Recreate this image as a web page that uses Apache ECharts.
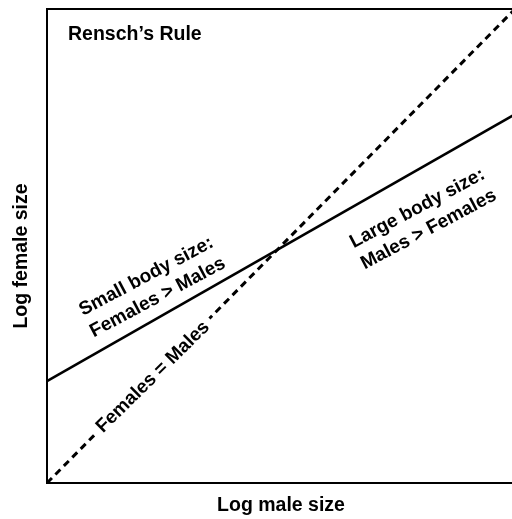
<!DOCTYPE html>
<html>
<head>
<meta charset="utf-8">
<script src="https://cdn.jsdelivr.net/npm/echarts@6/dist/echarts.min.js"></script>
<style>
  html, body { margin: 0; padding: 0; background: #fff; }
  #chart { width: 512px; height: 519px; }
</style>
</head>
<body>
<div id="chart"></div>
<script>
// conceptual lines, log male size vs log female size (0..1 units)
const maleSize = [0, 1]
const equalLine = [0, 1]          // Females = Males
const renschLine = [0.215, 0.778] // observed allometry

const font = 'Liberation Sans, Arial, sans-serif'

let myChart = echarts.init(document.getElementById('chart'))

myChart.setOption({
  animation: false,
  grid: {
    left: 47,
    width: 468,
    top: 9,
    bottom: 36,
    outerBoundsMode: 'none',
    containLabel: false,
    show: true,
    borderColor: '#000',
    borderWidth: 2
  },
  xAxis: {
    type: 'value',
    min: 0,
    max: 1,
    name: 'Log male size',
    nameLocation: 'middle',
    nameGap: 13,
    nameTextStyle: { color: '#000', fontSize: 19.5, fontWeight: 'bold', fontFamily: font },
    axisLine: { show: false },
    axisTick: { show: false },
    axisLabel: { show: false },
    splitLine: { show: false }
  },
  yAxis: {
    type: 'value',
    min: 0,
    max: 1,
    name: 'Log female size',
    nameLocation: 'middle',
    nameGap: 15,
    nameTextStyle: {
      color: '#000', fontSize: 19.5, fontWeight: 'bold', fontFamily: font,
      padding: [0, 20, 0, 0]
    },
    axisLine: { show: false },
    axisTick: { show: false },
    axisLabel: { show: false },
    splitLine: { show: false }
  },
  series: [
    {
      name: 'Females = Males',
      type: 'line',
      data: maleSize.map((x, i) => [x, equalLine[i]]),
      symbol: 'none',
      lineStyle: { color: '#000', width: 3, type: [7, 5] }
    },
    {
      name: "Rensch's Rule",
      type: 'line',
      data: maleSize.map((x, i) => [x, renschLine[i]]),
      symbol: 'none',
      lineStyle: { color: '#000', width: 2.5 }
    }
  ],
  graphic: [
    {
      type: 'text', left: 68, top: 25, z: 100,
      style: { text: 'Rensch’s Rule', fill: '#000', font: 'bold 19.5px ' + font }
    },
    {
      type: 'text', x: 152, y: 287, rotation: 28 * Math.PI / 180, z: 100,
      style: {
        text: 'Small body size:\nFemales > Males', fill: '#000', font: 'bold 19px ' + font,
        align: 'center', verticalAlign: 'middle', lineHeight: 24
      }
    },
    {
      type: 'text', x: 153, y: 377, rotation: 44.5 * Math.PI / 180, z: 100,
      style: {
        text: 'Females = Males', fill: '#000', font: 'bold 19px ' + font,
        align: 'center', verticalAlign: 'middle', backgroundColor: '#fff', padding: [0, 6]
      }
    },
    {
      type: 'text', x: 423, y: 219, rotation: 28 * Math.PI / 180, z: 100,
      style: {
        text: 'Large body size:\nMales > Females', fill: '#000', font: 'bold 19px ' + font,
        align: 'center', verticalAlign: 'middle', lineHeight: 24
      }
    }
  ]
})
</script>
</body>
</html>
